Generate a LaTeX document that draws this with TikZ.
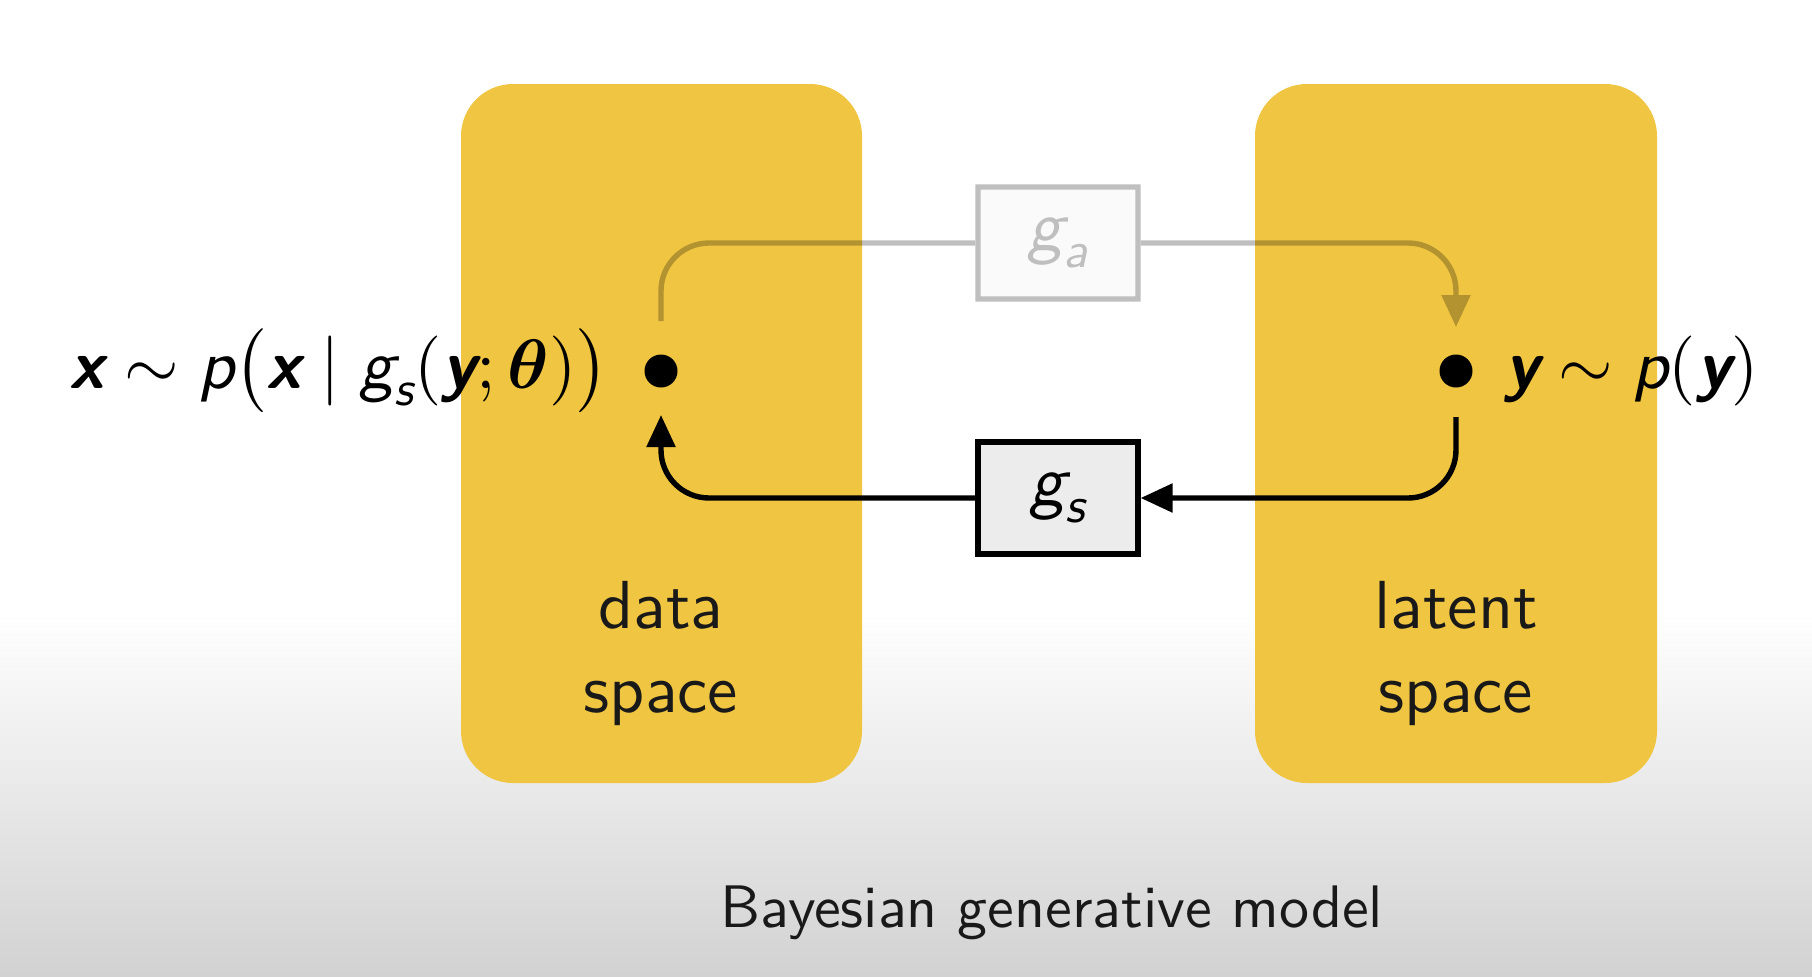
\documentclass[tikz,border=0pt]{standalone}
\usepackage{amsmath}
\usepackage{fontspec}
\setsansfont{lmsans10}[Extension=.otf, UprightFont=*-regular, ItalicFont=*-oblique, BoldFont=*-bold, BoldItalicFont=*-boldoblique]
\DeclareFontShape{OT1}{cmr}{m}{n}{<->cmr10}{}
\DeclareFontShape{OT1}{cmr}{bx}{n}{<->cmbx10}{}
\DeclareFontShape{OML}{cmm}{m}{it}{<->cmmi10}{}
\DeclareFontShape{OML}{cmm}{b}{it}{<->cmmib10}{}
\DeclareFontShape{OMS}{cmsy}{m}{n}{<->cmsy10}{}
\DeclareFontShape{OMS}{cmsy}{b}{n}{<->cmbsy10}{}
\DeclareFontShape{OMX}{cmex}{m}{n}{<->cmex10}{}
\usetikzlibrary{arrows.meta,positioning}
\definecolor{spaceyellow}{RGB}{240,197,65}
\definecolor{bgbottom}{RGB}{210,210,210}
\definecolor{boxfill}{RGB}{236,236,236}
\newcommand{\bvx}{\text{\bfseries\itshape x}}
\newcommand{\bvy}{\text{\bfseries\itshape y}}
\newcommand{\tl}[1]{\text{#1}}
\begin{document}
\begin{tikzpicture}[x=0.5pt,y=-0.5pt,
  font=\sffamily,
  spacebox/.style={fill=spaceyellow, rounded corners=26pt},
  spacelabel/.style={font=\sffamily\fontsize{34}{42}\selectfont, align=center, text=black!90},
  dotnode/.style={circle, fill=black, inner sep=0pt, minimum size=16.5pt},
  funbox/.style={draw=black, line width=2.6pt, fill=boxfill, minimum width=80pt, minimum height=56pt, inner sep=0pt, font=\sffamily\itshape\fontsize{36}{40}\selectfont},
  flow/.style={line width=2.7pt, rounded corners=24pt, -{Triangle[length=16pt,width=14pt]}},
  mathlabel/.style={font=\sffamily\itshape\fontsize{35}{40}\selectfont, inner sep=0pt}
]
\useasboundingbox (0,0) rectangle (1812,976);
\fill[white] (0,0) rectangle (1812,976);
\shade[top color=white, bottom color=bgbottom] (0,610) rectangle (1812,976);

% space boxes
\fill[spacebox] (461,84) rectangle (862,783);
\fill[spacebox] (1255,84) rectangle (1657,783);
\node[spacelabel] (dlabel) at (661,653) {data\\space};
\node[spacelabel] (llabel) at (1456,653) {latent\\space};

% dots
\node[dotnode] (dl) at (661,371) {};
\node[dotnode] (dr) at (1456,371) {};

% synthesis box
\node[funbox] (gs) at (1058,498) {$\tl{g}_{\tl{s}}$};

% connectors
\coordinate (dlup) at ([yshift=25pt]dl.center);
\coordinate (drup) at ([yshift=22pt]dr.center);
\coordinate (dldown) at ([yshift=-22pt]dl.center);
\coordinate (drdown) at ([yshift=-23pt]dr.center);

\begin{scope}[transparency group, opacity=0.25]
  \node[funbox] (ga) at (1058,243) {$\tl{g}_{\tl{a}}$};
  \draw[line width=2.7pt, rounded corners=24pt] (dlup) |- (ga.west);
  \draw[flow] (ga.east) -| (drup);
\end{scope}
\draw[flow] (drdown) |- (gs.east);
\draw[flow] (gs.west) -| (dldown);

% labels
\node[mathlabel, anchor=east] (xlab) at ([xshift=-26pt]dl.center) {$\bvx \sim \tl{p}\bigl(\bvx \mid \tl{g}_{\tl{s}}(\bvy;\boldsymbol{\theta})\bigr)$};
\node[mathlabel, anchor=west] (ylab) at ([xshift=24pt]dr.center) {$\bvy \sim \tl{p}(\bvy)$};

% caption
\node[font=\sffamily\fontsize{30}{34}\selectfont, text=black!90] (cap) at (1052,913) {Bayesian generative model};
\end{tikzpicture}
\end{document}
